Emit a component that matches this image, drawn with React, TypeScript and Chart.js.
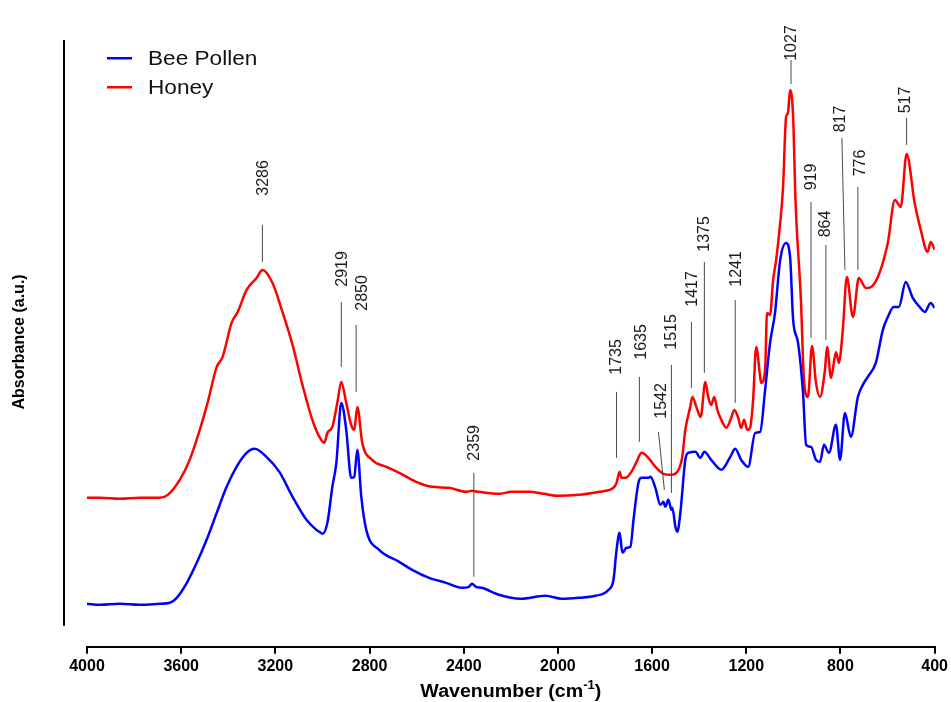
import React, { useEffect, useRef } from "react";
import { Chart, registerables } from "chart.js";

Chart.register(...registerables);

// Wavenumber (cm-1) and absorbance (a.u.)
const pollenWavenumber = [
  4000, 3945, 3860, 3775, 3691, 3648, 3619, 3576, 3534, 3492, 3449, 3407, 3365, 3322, 3288, 3238, 3183, 3127,
  3068, 3026, 3013, 3000, 2979, 2958, 2941, 2920, 2899, 2878, 2865, 2852, 2835, 2814, 2759, 2674, 2619, 2547,
  2475, 2408, 2378, 2365, 2348, 2323, 2251, 2158, 2052, 1984, 1912, 1840, 1785, 1764, 1751, 1738, 1726, 1709,
  1692, 1679, 1658, 1645, 1616, 1607, 1586, 1565, 1552, 1544, 1531, 1518, 1514, 1501, 1493, 1480, 1459, 1446,
  1416, 1395, 1378, 1349, 1306, 1268, 1247, 1222, 1192, 1162, 1141, 1120, 1099, 1078, 1056, 1031, 1014, 1001,
  980, 959, 946, 925, 904, 887, 870, 849, 819, 802, 781, 756, 726, 705, 684, 650, 620, 599, 574, 552, 523, 493,
  464, 442, 417, 400,
];
const pollenAbsorbance = [
  0.43, 0.42, 0.43, 0.42, 0.43, 0.44, 0.49, 0.64, 0.84, 1.07, 1.34, 1.6, 1.8, 1.94, 1.98, 1.9, 1.75, 1.5,
  1.27, 1.17, 1.15, 1.13, 1.24, 1.6, 1.84, 2.44, 2.17, 1.69, 1.7, 1.97, 1.5, 1.17, 0.97, 0.85, 0.77, 0.69,
  0.64, 0.59, 0.6, 0.63, 0.6, 0.59, 0.52, 0.48, 0.51, 0.48, 0.49, 0.51, 0.57, 0.67, 0.97, 1.14, 0.94, 0.99,
  1.0, 1.27, 1.64, 1.69, 1.69, 1.7, 1.59, 1.42, 1.45, 1.4, 1.47, 1.37, 1.39, 1.2, 1.15, 1.34, 1.87, 1.94,
  1.95, 1.89, 1.95, 1.87, 1.77, 1.9, 1.98, 1.87, 1.8, 2.14, 2.15, 2.57, 3.04, 3.34, 3.87, 4.04, 3.9, 3.27,
  3.04, 2.54, 2.02, 2.0, 1.87, 1.85, 2.02, 1.94, 2.22, 1.87, 2.34, 2.1, 2.5, 2.62, 2.7, 2.84, 3.17, 3.3, 3.4, 3.4, 3.65, 3.49,
  3.4, 3.35, 3.44, 3.39,
];

const honeyWavenumber = [
  4000, 3945, 3860, 3775, 3691, 3657, 3606, 3564, 3521, 3488, 3449, 3424, 3386, 3360, 3322, 3280, 3255, 3212,
  3170, 3127, 3085, 3043, 3013, 2992, 2979, 2958, 2937, 2920, 2899, 2878, 2865, 2852, 2831, 2789, 2729, 2674,
  2602, 2535, 2463, 2391, 2365, 2336, 2251, 2196, 2124, 2060, 1997, 1912, 1827, 1764, 1751, 1738, 1730, 1713,
  1688, 1666, 1645, 1616, 1586, 1552, 1522, 1488, 1472, 1459, 1438, 1429, 1412, 1395, 1391, 1374, 1361, 1349,
  1336, 1323, 1306, 1285, 1264, 1251, 1234, 1222, 1209, 1196, 1184, 1171, 1158, 1141, 1137, 1120, 1112, 1099,
  1086, 1073, 1056, 1044, 1031, 1023, 1014, 1001, 991, 968, 955, 938, 921, 904, 887, 866, 857, 840, 819, 807,
  790, 773, 747, 722, 692, 654, 599, 569, 544, 519, 485, 459, 430, 417, 400,
];
const honeyAbsorbance = [
  1.49, 1.49, 1.48, 1.49, 1.49, 1.52, 1.67, 1.87, 2.17, 2.44, 2.8, 2.9, 3.24, 3.35, 3.57, 3.69, 3.77, 3.64,
  3.35, 3.02, 2.62, 2.27, 2.1, 2.04, 2.14, 2.2, 2.44, 2.65, 2.44, 2.22, 2.17, 2.4, 2.04, 1.87, 1.8, 1.74,
  1.65, 1.6, 1.59, 1.55, 1.56, 1.55, 1.53, 1.55, 1.55, 1.53, 1.51, 1.52, 1.55, 1.59, 1.64, 1.75, 1.69, 1.69,
  1.75, 1.85, 1.94, 1.89, 1.8, 1.73, 1.72, 1.77, 1.9, 2.17, 2.4, 2.5, 2.4, 2.3, 2.32, 2.65, 2.49, 2.42,
  2.5, 2.37, 2.27, 2.19, 2.29, 2.37, 2.29, 2.19, 2.27, 2.17, 2.19, 2.47, 3.0, 2.7, 2.64, 2.77, 3.34, 3.32,
  3.67, 3.87, 4.24, 4.59, 5.3, 5.34, 5.57, 5.3, 4.47, 3.47, 2.67, 2.5, 3.01, 2.64, 2.5, 2.77, 3.0, 2.69, 2.95, 2.84,
  3.17, 3.7, 3.3, 3.69, 3.59, 3.64, 4.04, 4.47, 4.4, 4.93, 4.44, 4.17, 3.95, 4.05, 3.97,
];

const seriesNames = ["Bee Pollen", "Honey"];
const seriesColors = ["#0000ff", "#ff0000"];

const xTickValues = [4000, 3600, 3200, 2800, 2400, 2000, 1600, 1200, 800, 400];

// Peak annotations: label, text position (wavenumber, absorbance), leader line from (x1,y1) to (x2,y2)
const peakLabels = ["3286", "2919", "2850", "2359", "1735", "1635", "1542", "1515", "1417", "1375", "1241", "1027", "919", "864", "817", "776", "517"];
const peakTextX = [3255, 2920, 2835, 2357, 1755, 1649, 1565, 1522, 1433, 1383, 1247, 1010, 929, 866, 802, 718, 527];
const peakTextY = [4.69, 3.78, 3.54, 2.04, 2.9, 3.05, 2.46, 3.15, 3.58, 4.13, 3.78, 6.04, 4.7, 4.23, 5.28, 4.84, 5.47];
const peakLineTopX = [3255, 2920, 2857, 2357, 1751, 1654, 1573, 1518, 1433, 1378, 1247, 1010, 925, 862, 794, 726, 519];
const peakLineTopY = [4.22, 3.45, 3.22, 1.74, 2.55, 2.7, 2.15, 2.82, 3.25, 3.85, 3.47, 5.87, 4.45, 4.02, 5.09, 4.6, 5.29];
const peakLineBottomX = [3255, 2920, 2857, 2357, 1751, 1654, 1548, 1518, 1433, 1378, 1247, 1010, 925, 862, 781, 726, 519];
const peakLineBottomY = [3.85, 2.8, 2.55, 0.7, 1.89, 2.05, 1.57, 1.54, 2.59, 2.74, 2.44, 5.63, 3.09, 3.07, 3.77, 3.77, 5.02];

const FONT = "'Liberation Sans', Arial, Helvetica, sans-serif";

const decorPlugin = {
  id: "decor",
  afterDatasetsDraw(chart: any) {
    const { ctx, scales } = chart;
    const xs = scales.x;
    const ys = scales.y;
    ctx.save();

    // peak leader lines + labels
    ctx.strokeStyle = "#4a4a4a";
    ctx.lineWidth = 1;
    ctx.fillStyle = "#1a1a1a";
    ctx.font = `16px ${FONT}`;
    for (let i = 0; i < peakLabels.length; i++) {
      ctx.beginPath();
      ctx.moveTo(xs.getPixelForValue(peakLineTopX[i]), ys.getPixelForValue(peakLineTopY[i]));
      ctx.lineTo(xs.getPixelForValue(peakLineBottomX[i]), ys.getPixelForValue(peakLineBottomY[i]));
      ctx.stroke();
      ctx.save();
      ctx.translate(xs.getPixelForValue(peakTextX[i]), ys.getPixelForValue(peakTextY[i]));
      ctx.rotate(-Math.PI / 2);
      ctx.textAlign = "center";
      ctx.textBaseline = "middle";
      ctx.fillText(peakLabels[i], 0, 1);
      ctx.restore();
    }
    ctx.restore();
  },
  afterDraw(chart: any) {
    const { ctx, chartArea } = chart;
    ctx.save();
    // detached y axis line
    ctx.strokeStyle = "#000";
    ctx.lineWidth = 2;
    ctx.beginPath();
    ctx.moveTo(chartArea.left - 23, chartArea.top + 3);
    ctx.lineTo(chartArea.left - 23, chartArea.bottom - 21);
    ctx.stroke();

    // y axis title
    ctx.fillStyle = "#000";
    ctx.font = `bold 16px ${FONT}`;
    ctx.save();
    ctx.translate(20, (chartArea.top + chartArea.bottom) / 2);
    ctx.rotate(-Math.PI / 2);
    ctx.textAlign = "center";
    ctx.textBaseline = "middle";
    ctx.fillText("Absorbance (a.u.)", 0, 0);
    ctx.restore();

    // x axis title with superscript
    const main1 = "Wavenumber (cm";
    const sup = "-1";
    const main2 = ")";
    const cx = (chartArea.left + chartArea.right) / 2;
    const by = 697;
    ctx.font = `bold 18px ${FONT}`;
    const w1 = ctx.measureText(main1).width;
    const w3 = ctx.measureText(main2).width;
    ctx.font = `bold 12px ${FONT}`;
    const w2 = ctx.measureText(sup).width;
    const sx = 1.09;
    const total = (w1 + w2 + w3) * sx;
    ctx.save();
    ctx.translate(cx - total / 2, by);
    ctx.scale(sx, 1);
    ctx.textBaseline = "alphabetic";
    ctx.textAlign = "left";
    ctx.font = `bold 18px ${FONT}`;
    ctx.fillText(main1, 0, 0);
    ctx.font = `bold 12px ${FONT}`;
    ctx.fillText(sup, w1, -8);
    ctx.font = `bold 18px ${FONT}`;
    ctx.fillText(main2, w1 + w2, 0);
    ctx.restore();

    // legend
    const ds = chart.data.datasets;
    for (let i = 0; i < ds.length; i++) {
      const y = 58 + i * 29;
      ctx.fillStyle = ds[i].borderColor;
      ctx.fillRect(chartArea.left + 20, y - 1, 25, 2.5);
      ctx.save();
      ctx.translate(chartArea.left + 61, y);
      ctx.scale(1.13, 1);
      ctx.fillStyle = "#111";
      ctx.font = `20px ${FONT}`;
      ctx.textAlign = "left";
      ctx.textBaseline = "middle";
      ctx.fillText(ds[i].label, 0, 1);
      ctx.restore();
    }
    ctx.restore();
  },
};

export default function App() {
  const ref = useRef<HTMLCanvasElement | null>(null);
  useEffect(() => {
    document.body.style.margin = "0";
    const canvas = ref.current;
    if (!canvas) return;
    const chart = new Chart(canvas, {
      type: "line",
      data: {
        datasets: [
          {
            label: seriesNames[0],
            data: pollenWavenumber.map((w, i) => ({ x: w, y: pollenAbsorbance[i] })),
            borderColor: seriesColors[0],
            backgroundColor: seriesColors[0],
            borderWidth: 2.5,
            pointRadius: 0,
            cubicInterpolationMode: "monotone",
          },
          {
            label: seriesNames[1],
            data: honeyWavenumber.map((w, i) => ({ x: w, y: honeyAbsorbance[i] })),
            borderColor: seriesColors[1],
            backgroundColor: seriesColors[1],
            borderWidth: 2.5,
            pointRadius: 0,
            cubicInterpolationMode: "monotone",
          },
        ],
      },
      options: {
        animation: false,
        responsive: false,
        maintainAspectRatio: false,
        layout: { padding: { left: 87, right: 14, top: 37, bottom: 23 } },
        scales: {
          x: {
            type: "linear",
            reverse: true,
            min: 400,
            max: 4000,
            afterBuildTicks: (scale: any) => {
              scale.ticks = xTickValues.map((v) => ({ value: v }));
            },
            ticks: {
              color: "#000",
              padding: 3,
              font: { family: FONT, size: 16, weight: "bold" },
              callback: (v: any) => String(v),
            },
            grid: { drawOnChartArea: false, drawTicks: true, tickLength: 7, color: "#000", lineWidth: 2 },
            border: { color: "#000", width: 2 },
          },
          y: { display: false, min: 0, max: 6.1 },
        },
        plugins: { legend: { display: false }, tooltip: { enabled: false } },
      },
      plugins: [decorPlugin],
    });
    return () => chart.destroy();
  }, []);
  return (
    <div style={{ width: 951, height: 702 }}>
      <canvas ref={ref} width={951} height={702} style={{ display: "block", width: 951, height: 702 }} />
    </div>
  );
}
